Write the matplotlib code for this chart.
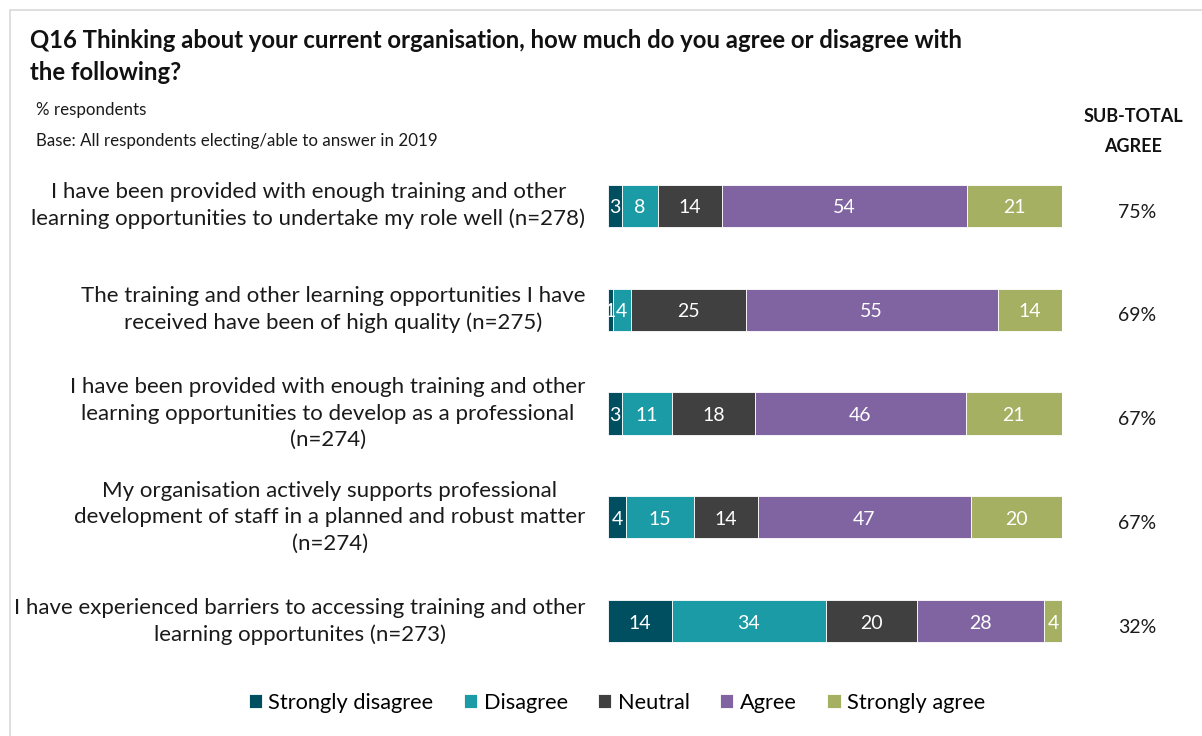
import matplotlib.pyplot as plt
import numpy as np
from matplotlib.patches import Rectangle

plt.rcParams['font.family'] = ['Lato', 'DejaVu Sans']

statements = [
    'I have been provided with enough training and other\nlearning opportunities to undertake my role well (n=278)',
    'The training and other learning opportunities I have\nreceived have been of high quality (n=275)',
    'I have been provided with enough training and other\nlearning opportunities to develop as a professional\n(n=274)',
    'My organisation actively supports professional\ndevelopment of staff in a planned and robust matter\n(n=274)',
    'I have experienced barriers to accessing training and other\nlearning opportunites (n=273)',
]
categories = ['Strongly disagree', 'Disagree', 'Neutral', 'Agree', 'Strongly agree']
strongly_disagree = [3, 1, 3, 4, 14]
disagree = [8, 4, 11, 15, 34]
neutral = [14, 25, 18, 14, 20]
agree = [54, 55, 46, 47, 28]
strongly_agree = [21, 14, 21, 20, 4]
subtotal_agree = ['75%', '69%', '67%', '67%', '32%']

colors = ['#004f61', '#1b9ba6', '#404040', '#8064a2', '#a5b062']

W, H = 1202, 736
fig = plt.figure(figsize=(W / 100, H / 100), dpi=100)

# light frame round the chart
fig.patches.append(Rectangle((10 / W, -0.01), 1.0, 1 - 10 / H + 0.01,
                             transform=fig.transFigure, fill=False,
                             edgecolor='#d9d9d9', lw=1.2))

ax = fig.add_axes([608 / W, 1 - 673 / H, 454 / W, 519 / H])
series = np.array([strongly_disagree, disagree, neutral, agree, strongly_agree],
                  dtype=float)
# 100% stacked: each row is scaled to its own total
totals = series.sum(axis=0)
y = np.arange(len(statements))
left = np.zeros(len(statements))
for vals, col, name in zip(series, colors, categories):
    widths = vals / totals * 100
    ax.barh(y, widths, left=left, height=0.405, color=col, label=name,
            edgecolor='white', linewidth=0.6)
    for yi, l, w, v in zip(y, left, widths, vals):
        ax.text(l + w / 2, yi + 0.02, f'{int(v)}', ha='center', va='center',
                color='white', fontsize=14)
    left += widths

ax.set_xlim(0, 100)
ax.set_ylim(len(statements) - 0.5, -0.5)
ax.axis('off')

# statement labels on the left
for yi, s in zip(y, statements):
    ax.text(-5, yi + 0.0, s, ha='right', va='center', ma='center',
            fontsize=16, color='#1a1a1a', linespacing=1.38)

# sub-total agree column
for yi, s in zip(y, subtotal_agree):
    ax.text(116.5, yi + 0.06, s, ha='center', va='center', fontsize=14,
            color='#1a1a1a')

fig.text(30 / W, 1 - 41 / H, 'Q16 Thinking about your current organisation, how much do you agree or disagree with',
         ha='left', va='center', fontsize=17.2, fontweight='bold', color='#111111')
fig.text(30 / W, 1 - 72 / H, 'the following?',
         ha='left', va='center', fontsize=17.2, fontweight='bold', color='#111111')
fig.text(36 / W, 1 - 110 / H, '% respondents', ha='left', va='center',
         fontsize=12.2, color='#1a1a1a')
fig.text(36 / W, 1 - 141 / H, 'Base: All respondents electing/able to answer in 2019',
         ha='left', va='center', fontsize=12.2, color='#1a1a1a')
fig.text(1133 / W, 1 - 117 / H, 'SUB-TOTAL', ha='center', va='center',
         fontsize=13, fontweight='bold', color='#111111')
fig.text(1133 / W, 1 - 147 / H, 'AGREE', ha='center', va='center',
         fontsize=13, fontweight='bold', color='#111111')

handles, labels = ax.get_legend_handles_labels()
fig.legend(handles, labels, loc='center', bbox_to_anchor=(617 / W, 1 - 703 / H),
           ncol=5, frameon=False, fontsize=15.7, handlelength=0.6,
           handleheight=0.6, handletextpad=0.3, columnspacing=1.4)

plt.savefig('out.png', dpi=100)
